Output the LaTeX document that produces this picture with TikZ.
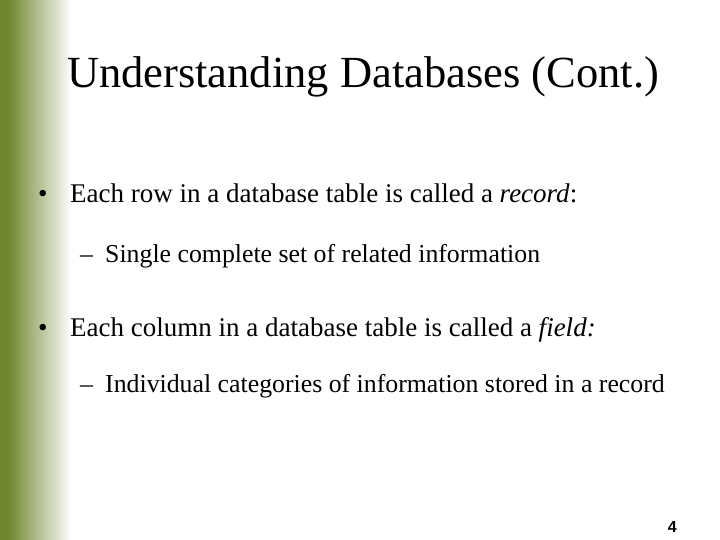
\documentclass[tikz,border=0pt]{standalone}
\usepackage{fontspec}
\setmainfont{Liberation Serif}
\setsansfont{Liberation Sans}
\definecolor{olive}{RGB}{112,134,46}
\tikzset{
  bullet/.style={anchor=base west, inner sep=0pt, font=\fontsize{27}{31}\selectfont},
  subitem/.style={anchor=base west, inner sep=0pt, font=\fontsize{25.8}{30}\selectfont}
}
\begin{document}
\begin{tikzpicture}[x=1pt, y=-1pt]
\useasboundingbox (0,0) rectangle (720,540);
\fill[olive] (0,0) rectangle (8,540);
\shade[left color=olive, right color=white] (8,0) rectangle (72,540);

\node[inner sep=0pt, font=\fontsize{44.5}{50}\selectfont] (title) at (363,77) {Understanding Databases (Cont.)};

\node[bullet] (b1) at (38,203) {\textbullet};
\node[bullet] (t1) at (70,203) {Each row in a database table is called a \textit{record}:};
\node[subitem] (d1) at (80,262) {--};
\node[subitem] (s1) at (105,262) {Single complete set of related information};

\node[bullet] (b2) at (38,336) {\textbullet};
\node[bullet] (t2) at (70,336) {Each column in a database table is called a \textit{field:}};
\node[subitem] (d2) at (80,392) {--};
\node[subitem] (s2) at (105,392) {Individual categories of information stored in a record};

\node[anchor=base east, inner sep=0pt, font=\sffamily\bfseries\fontsize{16}{18}\selectfont] (page) at (677,532) {4};
\end{tikzpicture}
\end{document}
